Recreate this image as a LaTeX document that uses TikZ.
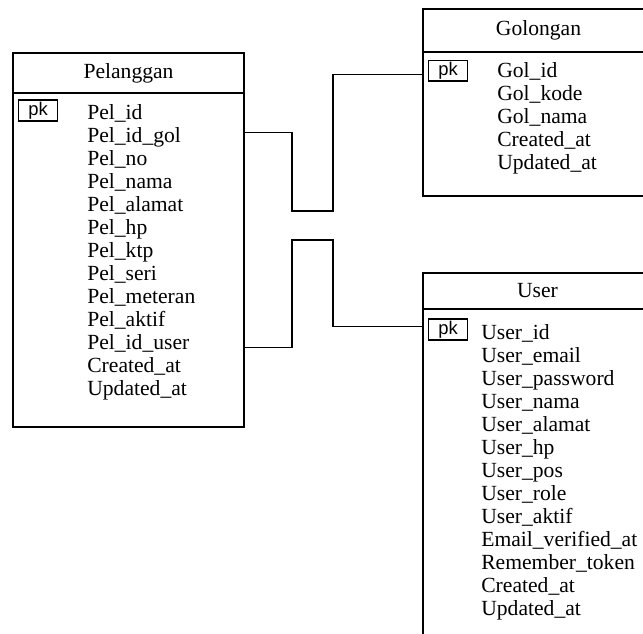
\documentclass[tikz,border=0pt]{standalone}
\usepackage{fontspec}
\setmainfont{Liberation Serif}
\newfontfamily\pkfont{Liberation Sans}
\usetikzlibrary{positioning, calc}
\tikzstyle{title} = [rectangle, draw=black, line width=.7pt, outer sep=0pt, inner sep=0pt, text centered, font=\fontsize{13.5}{15}\selectfont]
\tikzstyle{tbody} = [rectangle, draw=black, line width=.7pt, outer sep=0pt, inner sep=0pt]
\tikzstyle{field} = [anchor=base west, inner sep=0pt, font=\fontsize{13.5}{15}\selectfont]
\tikzstyle{pk} = [rectangle, draw=black, line width=.7pt, anchor=west, inner sep=0pt, minimum width=24.4pt, minimum height=13.1pt, font=\pkfont\fontsize{11.5}{12}\selectfont]
\tikzstyle{line} = [line width=.7pt]

\begin{document}
\begin{tikzpicture}[x=0.625pt, y=-0.625pt]
    \useasboundingbox (0,0) rectangle (643,633);
    \clip (0,0) rectangle (643,633);

    % Pelanggan
    \node (pel) [title, minimum width=144.4pt, minimum height=25pt, anchor=north west] at (13,53) {Pelanggan};
    \node (pelbody) [tbody, minimum width=144.4pt, minimum height=208.75pt, below=0pt of pel] {};
    \node (pelpk) [pk] at ($(pelbody.north west)+(5,17.5)$) {pk};
    \foreach \f [count=\i] in {Pel\_id, Pel\_id\_gol, Pel\_no, Pel\_nama, Pel\_alamat, Pel\_hp, Pel\_ktp, Pel\_seri, Pel\_meteran, Pel\_aktif, Pel\_id\_user, Created\_at, Updated\_at}
        \node (pel\i) [field] at ($(pelbody.north west)+(74,26+23*\i-23)$) {\f};

    % Golongan
    \node (gol) [title, minimum width=144.4pt, minimum height=26.9pt, anchor=north west] at (423,9) {Golongan};
    \node (golbody) [tbody, minimum width=144.4pt, minimum height=90pt, below=0pt of gol] {};
    \node (golpk) [pk] at ($(golbody.north west)+(5,18.5)$) {pk};
    \foreach \f [count=\i] in {Gol\_id, Gol\_kode, Gol\_nama, Created\_at, Updated\_at}
        \node (gol\i) [field] at ($(golbody.north west)+(74,25+23*\i-23)$) {\f};

    % User
    \node (user) [title, minimum width=143.1pt, minimum height=22.5pt, anchor=north west] at (423,273) {User};
    \node (userbody) [tbody, minimum width=143.1pt, minimum height=230pt, below=0pt of user] {};
    \node (userpk) [pk] at ($(userbody.north west)+(5,20.5)$) {pk};
    \foreach \f [count=\i] in {User\_id, User\_email, User\_password, User\_nama, User\_alamat, User\_hp, User\_pos, User\_role, User\_aktif, Email\_verified\_at, Remember\_token, Created\_at, Updated\_at}
        \node (user\i) [field] at ($(userbody.north west)+(58,30+23*\i-23)$) {\f};

    % relations
    \coordinate (j1) at (292,211);
    \coordinate (j2) at (333,211);
    \coordinate (j3) at (292,240);
    \coordinate (j4) at (333,240);
    \draw [line] ($(pelbody.east |- pel2)+(0,-4)$) -| (j1) -- (j2) |- ($(golbody.west |- golpk)+(0,4)$);
    \draw [line] ($(pelbody.east |- pel11)+(0,5)$) -| (j3) -- (j4) |- ($(userbody.west |- userpk)+(0,-3)$);
\end{tikzpicture}
\end{document}
